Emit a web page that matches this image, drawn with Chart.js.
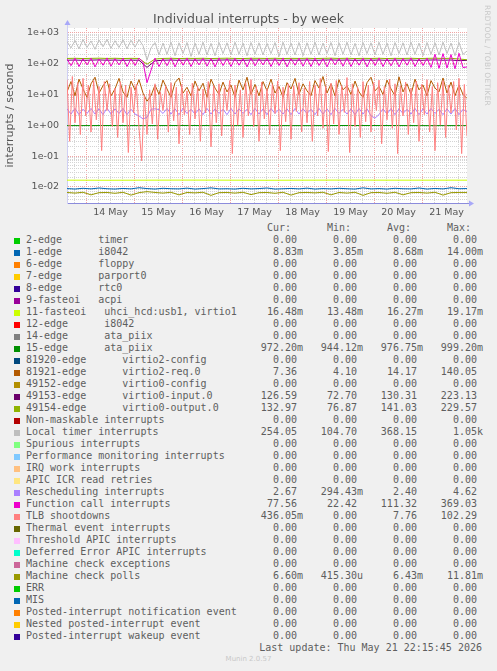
<!DOCTYPE html>
<html>
<head>
<meta charset="utf-8">
<title>Individual interrupts - by week</title>
<script src="https://cdn.jsdelivr.net/npm/chart.js@4"></script>
<style>
    body { margin: 0; background: #f0f0f0; }
    #wrap { position: relative; width: 497px; height: 671px; overflow: hidden; font-family: 'DejaVu Sans', sans-serif; color: #555; }
    #chart { position: absolute; left: 0; top: 0; }
    #title { position: absolute; left: 0; top: 11px; width: 497px; text-align: center; font-size: 12.5px; line-height: 16px; color: #555; }
    #rrd { position: absolute; left: 483px; top: 5px; writing-mode: vertical-rl; font-size: 7.5px; color: #c8c8c8; letter-spacing: 0.2px; }
    .mono { font-family: 'DejaVu Sans Mono', monospace; font-size: 10px; color: #5e5e5e; white-space: pre; }
    .row { position: absolute; left: 0; width: 497px; height: 12px; line-height: 12px; }
    .sw { position: absolute; left: 14px; top: 4px; width: 6px; height: 6px; }
    .nm { position: absolute; left: 26px; top: 0; }
    .val { position: absolute; top: 0; }
    #munin { position: absolute; left: 0; top: 655px; width: 497px; text-align: center; font-size: 7px; color: #c8c8c8; }
</style>
</head>
<body>
<div id="wrap">
    <canvas id="chart" width="497" height="222"></canvas>
    <div id="title">Individual interrupts - by week</div>
    <div id="rrd">RRDTOOL / TOBI OETIKER</div>
    <div id="legend"></div>
    <div id="munin">Munin 2.0.57</div>
</div>
<script>
// time axis in hours from 14 May 00:00
const T_START = -9.75;
const T_END = 190.25;

const dayLabels = ['14 May', '15 May', '16 May', '17 May', '18 May', '19 May', '20 May', '21 May'];
const yDecades = [0.01, 0.1, 1, 10, 100, 1000];
const yTickLabels = ['1e-02', '1e-01', '1e+00', '1e+01', '1e+02', '1e+03'];

// series values, evenly spaced over the week
const localTimer = [
    520, 320, 560, 300, 600, 330, 540, 290, 580, 350, 610, 310, 550, 330, 590, 300, 570, 340, 600, 380,
    130,
    320, 480, 190, 460, 200, 490, 180, 470, 210, 480, 170, 460, 200, 490, 190, 450, 180, 480, 210, 470,
    190, 490, 200, 460, 180, 480, 200, 470, 190, 450, 210, 480, 170, 490, 200, 460, 190, 480, 180, 470,
    200, 490, 190, 460, 210, 480, 180, 470, 200, 490, 190, 450, 180, 480, 210, 470, 190, 490, 200, 460,
    180, 480, 210, 470, 190, 490, 200, 460, 180, 480, 200, 470, 190, 490, 210, 460, 180, 480, 200, 254
];
const funcCall = [
    140, 85, 150, 80, 145, 90, 150, 78, 140, 88, 152, 82, 145, 90, 150, 80, 142, 86, 150, 110,
    24,
    60, 150, 80, 145, 85, 152, 78, 148, 88, 150, 80, 145, 90, 150, 82, 148, 78, 152, 86, 145,
    80, 150, 88, 148, 78, 152, 84, 145, 90, 150, 80, 148, 86, 152, 78, 145, 88, 150, 82, 148,
    80, 152, 86, 145, 78, 150, 90, 148, 82, 152, 80, 145, 88, 150, 78, 148, 86, 152, 80, 145,
    84, 150, 78, 148, 88, 152, 80, 145, 86, 150, 75, 200, 70, 210, 72, 195, 68, 215, 74, 77.56
];
const edge81921 = [
    12, 26, 9, 31, 15, 8, 22, 36, 11, 19, 28, 9, 15, 33, 12, 8, 27, 14, 30, 11,
    6, 9, 20, 10, 29, 15, 8, 24, 34, 11, 17, 9, 27, 13, 23, 8, 31, 16, 10, 25,
    12, 20, 8, 29, 14, 36, 10, 21, 9, 26, 13, 31, 11, 18, 8, 24, 15, 33, 10, 22,
    13, 9, 28, 16, 38, 11, 22, 9, 30, 14, 19, 10, 27, 12, 8, 24, 36, 13, 18, 10,
    29, 15, 9, 37, 12, 22, 10, 31, 14, 20, 9, 28, 16, 12, 34, 11, 25, 9, 20, 10,
    7.36
];
const tlb = [
    30, 0.3, 38, 1.2, 24, 0.5, 33, 2, 20, 0.6,
    28, 1.5, 18, 0.15, 26, 3, 22, 0.9, 16, 0.4,
    25, 1.2, 20, 0.13, 17, 2.5, 21, 0.8, 0.07, 9,
    0.5, 14, 1.1, 22, 0.35, 12, 3, 19, 0.6, 24,
    1.4, 17, 0.25, 21, 2.2, 13, 0.5, 23, 1.6, 18,
    0.3, 15, 2.5, 26, 0.2, 19, 1.2, 22, 0.45, 16,
    3, 28, 0.12, 20, 1, 14, 0.4, 24, 2, 30,
    0.9, 18, 0.3, 25, 1.6, 15, 0.5, 21, 2.4, 27,
    0.15, 17, 1.3, 22, 0.35, 19, 2.8, 24, 0.6, 16,
    1.2, 26, 0.3, 20, 2, 33, 0.8, 18, 0.14, 23,
    1.1, 28, 0.5, 19, 2.6, 35, 0.13, 22, 0.9, 17,
    0.4, 26, 1.3, 20, 0.6, 24, 3, 29, 0.25, 18,
    1.5, 31, 0.8, 22, 0.12, 19, 2, 25, 0.5, 16,
    1.2, 27, 0.3, 21, 2.2, 30, 0.6, 18, 0.15, 24,
    1, 28, 0.4, 20, 2.5, 26, 0.7, 33, 0.12, 21,
    0.436
];
const resched = [
    3.4, 2.3, 3.5, 2.2, 3.3, 2.4, 3.5, 2.3, 3.4, 2.2, 3.6, 2.3, 3.4, 2.4, 3.5, 2.2, 3.3, 2.3, 2.0, 1.6,
    1.8, 3.3, 3.4, 3.2, 2.4, 3.5, 2.3, 3.4, 2.2, 3.5, 2.4, 3.3, 2.3, 3.4, 2.2, 3.5, 2.3, 3.4, 2.4, 3.3,
    2.2, 3.5, 2.3, 3.4, 2.4, 3.3, 2.2, 3.5, 2.3, 3.4, 2.2, 3.5, 2.4, 3.3, 2.3, 3.4, 2.2, 3.5, 2.3, 3.4,
    2.4, 3.3, 2.2, 3.5, 2.3, 3.4, 2.2, 3.5, 2.4, 3.3, 2.3, 3.4, 2.2, 3.5, 2.3, 3.4, 2.0, 1.7, 2.2, 3.4,
    2.3, 3.5, 2.2, 3.4, 2.4, 3.3, 2.3, 3.5, 2.2, 3.4, 2.3, 3.5, 2.4, 3.3, 2.2, 3.4, 2.3, 3.5, 2.2, 3.3,
    2.67
];
const edge49154 = [
    146, 148, 145, 147, 149, 146, 148, 145, 147, 146,
    95, 140, 146, 148, 145, 147, 146, 148, 145, 147,
    149, 146, 145, 148, 147, 146, 148, 145, 147, 146,
    148, 145, 147, 149, 146, 148, 145, 147, 146, 148,
    145, 147, 146, 148, 145, 147, 149, 146, 148, 140,
    133
];
const edge49153 = [
    128, 130, 127, 129, 131, 128, 130, 127, 129, 128,
    75, 122, 128, 130, 127, 129, 128, 130, 127, 129,
    131, 128, 127, 130, 129, 128, 130, 127, 129, 128,
    130, 127, 129, 131, 128, 130, 127, 129, 128, 130,
    127, 129, 128, 130, 127, 129, 131, 128, 130, 124,
    126.6
];
const edge15 = [0.97, 0.975, 0.97, 0.98, 0.972, 0.975, 0.97, 0.978, 0.975, 0.97, 0.972];
const fasteoi11 = [0.0165, 0.0164, 0.0165, 0.0166, 0.0165, 0.0164, 0.0165, 0.0166, 0.0165, 0.0165, 0.01648];
const edge1 = [
    0.0088, 0.0085, 0.0090, 0.0086, 0.0092, 0.0087, 0.0085, 0.0089, 0.0086, 0.0094,
    0.0088, 0.0085, 0.0090, 0.0087, 0.0086, 0.0091, 0.0085, 0.0088, 0.0093, 0.0086,
    0.0087, 0.0085, 0.0090, 0.0086, 0.0088, 0.0092, 0.0085, 0.0087, 0.0089, 0.0086,
    0.0091, 0.0085, 0.0088, 0.0086, 0.0090, 0.0087, 0.0085, 0.0093, 0.0086, 0.0088,
    0.0085, 0.0090, 0.0087, 0.0086, 0.0092, 0.0085, 0.0089, 0.0086, 0.0094, 0.0087,
    0.00883
];
const mcePolls = [
    0.0066, 0.0063, 0.0067, 0.0055, 0.0065, 0.0066, 0.0062, 0.0067, 0.0054, 0.0065,
    0.0070, 0.0066, 0.0063, 0.0067, 0.0055, 0.0066, 0.0064, 0.0067, 0.0053, 0.0065,
    0.0066, 0.0063, 0.0067, 0.0056, 0.0065, 0.0066, 0.0062, 0.0067, 0.0054, 0.0065,
    0.0066, 0.0064, 0.0067, 0.0055, 0.0066, 0.0063, 0.0067, 0.0053, 0.0065, 0.0066,
    0.0062, 0.0067, 0.0055, 0.0065, 0.0066, 0.0063, 0.0067, 0.0054, 0.0065, 0.0066,
    0.0066
];

// legend table
const legendNames = [
    '2-edge      timer', '1-edge      i8042', '6-edge      floppy', '7-edge      parport0',
    '8-edge      rtc0', '9-fasteoi   acpi', '11-fasteoi   uhci_hcd:usb1, virtio1',
    '12-edge      i8042', '14-edge      ata_piix', '15-edge      ata_piix',
    '81920-edge      virtio2-config', '81921-edge      virtio2-req.0', '49152-edge      virtio0-config',
    '49153-edge      virtio0-input.0', '49154-edge      virtio0-output.0',
    'Non-maskable interrupts', 'Local timer interrupts', 'Spurious interrupts',
    'Performance monitoring interrupts', 'IRQ work interrupts', 'APIC ICR read retries',
    'Rescheduling interrupts', 'Function call interrupts', 'TLB shootdowns',
    'Thermal event interrupts', 'Threshold APIC interrupts', 'Deferred Error APIC interrupts',
    'Machine check exceptions', 'Machine check polls', 'ERR', 'MIS',
    'Posted-interrupt notification event', 'Nested posted-interrupt event', 'Posted-interrupt wakeup event'
];
const legendColors = [
    '#00CC00', '#0066B3', '#FF8000', '#FFCC00', '#330099', '#990099', '#CCFF00', '#FF0000',
    '#808080', '#008F00', '#00487D', '#B35A00', '#B38F00', '#6B006B', '#8FB300', '#B30000',
    '#BEBEBE', '#80FF80', '#80C9FF', '#FFC080', '#FFE680', '#AA80FF', '#EE00CC', '#FF8080',
    '#666600', '#FFBFFF', '#00FFCC', '#CC6699', '#999900', '#00CC00', '#0066B3', '#FF8000',
    '#FFCC00', '#330099'
];
const curVals = ['0.00', '8.83m', '0.00', '0.00', '0.00', '0.00', '16.48m', '0.00', '0.00', '972.20m',
    '0.00', '7.36', '0.00', '126.59', '132.97', '0.00', '254.05', '0.00', '0.00', '0.00', '0.00',
    '2.67', '77.56', '436.05m', '0.00', '0.00', '0.00', '0.00', '6.60m', '0.00', '0.00', '0.00', '0.00', '0.00'];
const minVals = ['0.00', '3.85m', '0.00', '0.00', '0.00', '0.00', '13.48m', '0.00', '0.00', '944.12m',
    '0.00', '4.10', '0.00', '72.70', '76.87', '0.00', '104.70', '0.00', '0.00', '0.00', '0.00',
    '294.43m', '22.42', '0.00', '0.00', '0.00', '0.00', '0.00', '415.30u', '0.00', '0.00', '0.00', '0.00', '0.00'];
const avgVals = ['0.00', '8.68m', '0.00', '0.00', '0.00', '0.00', '16.27m', '0.00', '0.00', '976.75m',
    '0.00', '14.17', '0.00', '130.31', '141.03', '0.00', '368.15', '0.00', '0.00', '0.00', '0.00',
    '2.40', '111.32', '7.76', '0.00', '0.00', '0.00', '0.00', '6.43m', '0.00', '0.00', '0.00', '0.00', '0.00'];
const maxVals = ['0.00', '14.00m', '0.00', '0.00', '0.00', '0.00', '19.17m', '0.00', '0.00', '999.20m',
    '0.00', '140.05', '0.00', '223.13', '229.57', '0.00', '1.05k', '0.00', '0.00', '0.00', '0.00',
    '4.62', '369.03', '102.29', '0.00', '0.00', '0.00', '0.00', '11.81m', '0.00', '0.00', '0.00', '0.00', '0.00'];

const colors = {
    text: '#555555',
    gridMinor: '#d4d4d4',
    gridMajor: '#f0a4a4',
    axisX: '#8c8cdc',
    axisY: '#cfcff4',
    arrow: '#a8a8f8'
};

// drawn in legend order, later ones on top
const plotted = [
    { label: '1-edge', color: '#0066B3', data: edge1 },
    { label: '11-fasteoi', color: '#CCFF00', data: fasteoi11 },
    { label: '15-edge', color: '#008F00', data: edge15 },
    { label: '81921-edge', color: '#B35A00', data: edge81921 },
    { label: '49153-edge', color: '#6B006B', data: edge49153 },
    { label: '49154-edge', color: '#8FB300', data: edge49154 },
    { label: 'Local timer interrupts', color: '#BEBEBE', data: localTimer },
    { label: 'Rescheduling interrupts', color: '#AA80FF', data: resched },
    { label: 'Function call interrupts', color: '#EE00CC', data: funcCall },
    { label: 'TLB shootdowns', color: '#FF8080', data: tlb },
    { label: 'Machine check polls', color: '#999900', data: mcePolls }
];

function toPoints(values) {
    const step = (T_END - T_START) / (values.length - 1);
    return values.map((v, i) => ({ x: T_START + i * step, y: v }));
}

function isDecade(v) {
    const l = Math.log10(v);
    return Math.abs(l - Math.round(l)) < 1e-9;
}

const plotBackground = {
    id: 'plotBackground',
    beforeDraw(chart) {
        const { ctx, chartArea: a } = chart;
        ctx.save();
        ctx.fillStyle = '#ffffff';
        ctx.fillRect(a.left, a.top, a.right - a.left, a.bottom - a.top);
        ctx.restore();
    }
};

const axisArrows = {
    id: 'axisArrows',
    afterDraw(chart) {
        const { ctx, chartArea: a } = chart;
        const x = Math.round(a.left) + 0.5;
        const y = Math.round(a.bottom) + 0.5;
        ctx.save();
        ctx.lineWidth = 1;
        ctx.strokeStyle = colors.axisY;
        ctx.beginPath(); ctx.moveTo(x, a.top); ctx.lineTo(x, a.top - 4); ctx.stroke();
        ctx.strokeStyle = colors.axisX;
        ctx.beginPath(); ctx.moveTo(a.right, y); ctx.lineTo(a.right + 3, y); ctx.stroke();
        ctx.fillStyle = colors.arrow;
        ctx.beginPath(); ctx.moveTo(x - 3, a.top - 3); ctx.lineTo(x + 3, a.top - 3); ctx.lineTo(x, a.top - 8); ctx.closePath(); ctx.fill();
        ctx.beginPath(); ctx.moveTo(a.right + 2, y - 3); ctx.lineTo(a.right + 2, y + 3); ctx.lineTo(a.right + 7, y); ctx.closePath(); ctx.fill();
        ctx.restore();
    }
};

function renderChart() {
    const ctx = document.getElementById('chart').getContext('2d');
    const datasets = plotted.map((s, idx) => ({
        label: s.label,
        data: toPoints(s.data),
        borderColor: s.color,
        backgroundColor: s.color,
        borderWidth: 1,
        pointRadius: 0,
        tension: 0,
        fill: false,
        order: plotted.length - idx
    }));

    const xGrid = [];
    for (let h = -6; h <= T_END; h += 6) xGrid.push(h);

    const yGrid = [];
    for (let e = -3; e <= 3; e++) {
        for (let k = 1; k <= 9; k++) {
            const v = k * Math.pow(10, e);
            if (v > 0.003 && v < 1420) yGrid.push(v);
        }
    }

    new Chart(ctx, {
        type: 'line',
        data: { datasets },
        options: {
            responsive: false,
            animation: false,
            layout: { padding: { top: 28, right: 30, left: 0, bottom: 0 } },
            plugins: {
                legend: { display: false },
                tooltip: { enabled: false },
                title: { display: false }
            },
            scales: {
                x: {
                    type: 'linear',
                    min: T_START,
                    max: T_END,
                    bounds: 'data',
                    afterBuildTicks: s => { s.ticks = xGrid.map(v => ({ value: v })); },
                    afterFit: s => { s.height = 19; },
                    grid: {
                        drawTicks: false,
                        lineWidth: 1,
                        color: c => (c.tick && c.tick.value % 24 === 0) ? colors.gridMajor : colors.gridMinor
                    },
                    border: { color: colors.axisX, width: 1, dash: [1, 1] },
                    ticks: {
                        autoSkip: false,
                        maxRotation: 0,
                        padding: 4,
                        color: colors.text,
                        font: { family: 'DejaVu Sans', size: 9.5 },
                        callback: v => {
                            if (((v % 24) + 24) % 24 !== 12) return '';
                            return dayLabels[(v - 12) / 24] || '';
                        }
                    }
                },
                y: {
                    type: 'logarithmic',
                    min: 0.003,
                    max: 1420,
                    bounds: 'data',
                    afterBuildTicks: s => { s.ticks = yGrid.map(v => ({ value: v })); },
                    afterFit: s => { s.width = 67; },
                    grid: {
                        drawTicks: false,
                        lineWidth: 1,
                        color: c => (c.tick && isDecade(c.tick.value)) ? colors.gridMajor : colors.gridMinor
                    },
                    border: { color: colors.axisY, width: 1, dash: [1, 1] },
                    title: {
                        display: true,
                        text: 'interrupts / second',
                        color: colors.text,
                        font: { family: 'DejaVu Sans', size: 11 },
                        padding: { top: 4, bottom: 4 }
                    },
                    ticks: {
                        autoSkip: false,
                        padding: 8,
                        color: colors.text,
                        font: { family: 'DejaVu Sans', size: 9.5 },
                        callback: v => {
                            const i = yDecades.findIndex(d => Math.abs(Math.log10(d) - Math.log10(v)) < 1e-9);
                            return i >= 0 ? yTickLabels[i] : '';
                        }
                    }
                }
            }
        },
        plugins: [plotBackground, axisArrows]
    });
}

function valueSpan(s, right) {
    const text = /[a-z]$/i.test(s) ? s : s + ' ';
    return `<span class="val" style="right:${right}px">${text}</span>`;
}

function renderLegend() {
    const box = document.getElementById('legend');
    let html = '<div class="row mono" style="top:222px">' +
        '<span class="val" style="left:267px">Cur:</span>' +
        '<span class="val" style="left:327px">Min:</span>' +
        '<span class="val" style="left:387px">Avg:</span>' +
        '<span class="val" style="left:447px">Max:</span></div>';

    legendNames.forEach((name, i) => {
        html += `<div class="row mono" style="top:${234 + i * 12}px">` +
            `<span class="sw" style="background:${legendColors[i]}"></span>` +
            `<span class="nm">${name}</span>` +
            valueSpan(curVals[i], 194) + valueSpan(minVals[i], 134) +
            valueSpan(avgVals[i], 74) + valueSpan(maxVals[i], 14) +
            '</div>';
    });

    html += '<div class="row mono" style="top:642px"><span class="val" style="right:15px">Last update: Thu May 21 22:15:45 2026</span></div>';
    box.innerHTML = html;
}

window.addEventListener('DOMContentLoaded', () => {
    renderChart();
    renderLegend();
});
</script>
</body>
</html>
